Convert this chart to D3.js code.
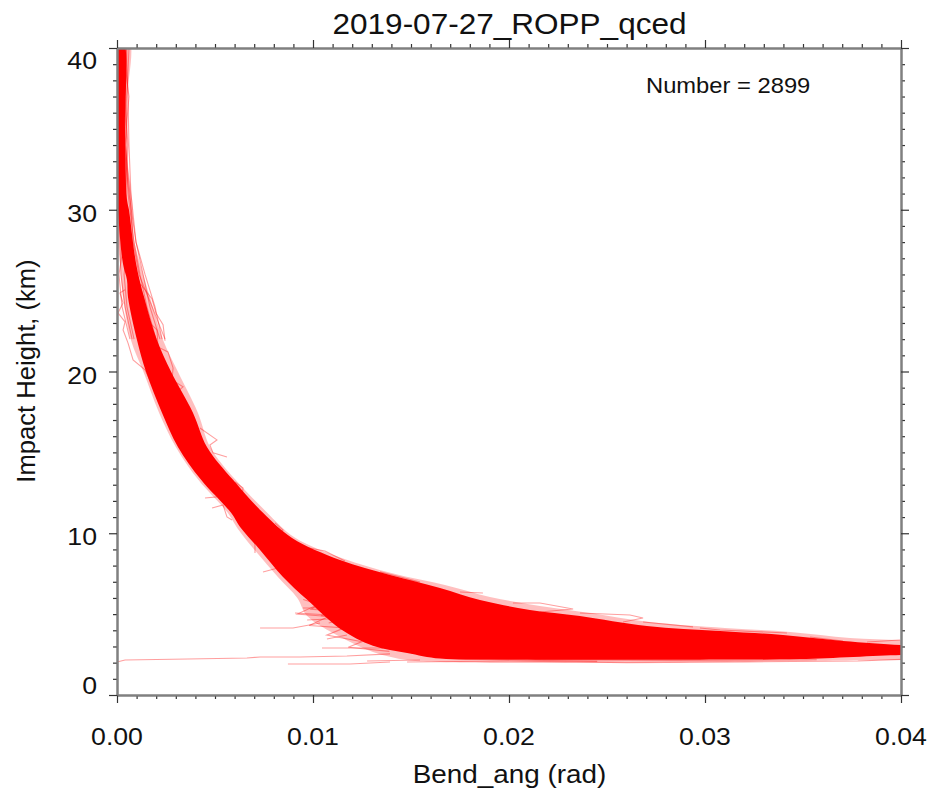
<!DOCTYPE html>
<html>
<head>
<meta charset="utf-8">
<script src="https://cdn.jsdelivr.net/npm/d3@7"></script>
<style>
  html, body { margin: 0; padding: 0; background: #fff; }
  svg { display: block; }
  text { font-family: "Liberation Sans", Arial, sans-serif; fill: #111; }
</style>
</head>
<body>
<div id="chart"></div>
<script>
const titleText = "2019-07-27_ROPP_qced";
const numberText = "Number = 2899";
const xLabelText = "Bend_ang (rad)";
const yLabelText = "Impact Height, (km)";

const xMajorTicks = [0, 0.01, 0.02, 0.03, 0.04];
const xMinorTicks = [0.001, 0.002, 0.003, 0.004, 0.005, 0.006, 0.007, 0.008, 0.009,
    0.011, 0.012, 0.013, 0.014, 0.015, 0.016, 0.017, 0.018, 0.019,
    0.021, 0.022, 0.023, 0.024, 0.025, 0.026, 0.027, 0.028, 0.029,
    0.031, 0.032, 0.033, 0.034, 0.035, 0.036, 0.037, 0.038, 0.039];
const yMajorTicks = [0, 10, 20, 30, 40];
const yMinorTicks = [1, 2, 3, 4, 5, 6, 7, 8, 9, 11, 12, 13, 14, 15, 16, 17, 18, 19,
    21, 22, 23, 24, 25, 26, 27, 28, 29, 31, 32, 33, 34, 35, 36, 37, 38, 39];

// outline of the solid part of the band, [bend, height]
const bandOutline = [
    [0.0003, 40.5], [0.00041, 34.94], [0.00051, 30.6], [0.00061, 30], [0.00097, 26.7],
    [0.00138, 24.6], [0.00204, 21.95], [0.00276, 19.98], [0.00388, 17.44], [0.00459, 15.34],
    [0.00592, 13.3], [0.00745, 11.26], [0.00893, 9.71], [0.01138, 8.35], [0.01393, 7.42],
    [0.01648, 6.62], [0.01852, 5.87], [0.02107, 5.26], [0.02362, 4.89], [0.02704, 4.27],
    [0.03077, 3.96], [0.03398, 3.71], [0.03704, 3.34], [0.04, 3.09], [0.042, 3.05],
    [0.042, 2.5], [0.04, 2.47], [0.03485, 2.22], [0.02974, 2.18], [0.01954, 2.2], [0.01648, 2.25],
    [0.0148, 2.6], [0.01306, 3.05], [0.01138, 4.1], [0.00969, 5.9], [0.00847, 7.3],
    [0.0073, 8.97], [0.00628, 10.39], [0.00582, 11.26], [0.00429, 13.3], [0.00311, 15.34],
    [0.0023, 17.44], [0.00148, 19.98], [0.00102, 21.95], [0.00056, 24.6], [0.00051, 25.66],
    [0.0003, 26.7], [0.00005, 30], [-0.0001, 34.94], [-0.0001, 40.5]
];

// outline of the pale fringe around it
const fringeOutline = [
    [0.00061, 40.5], [0.00051, 36.8], [0.00046, 34], [0.00077, 30.6], [0.00087, 28.14],
    [0.00117, 26.7], [0.00168, 24.6], [0.00235, 21.95], [0.00311, 19.98], [0.00413, 17.44],
    [0.00475, 15.34], [0.00605, 13.3], [0.0076, 11.35], [0.00905, 9.75], [0.0115, 8.45],
    [0.01405, 7.52], [0.01673, 6.8], [0.01903, 6.06], [0.02158, 5.5], [0.02413, 5.07],
    [0.02719, 4.51], [0.03102, 4.14], [0.03434, 3.9], [0.0374, 3.53], [0.04, 3.4], [0.042, 3.35],
    [0.042, 2.14], [0.04, 2.16], [0.03485, 2.1], [0.02974, 2.04], [0.01954, 1.98], [0.01648, 2.04],
    [0.0148, 2.16], [0.01306, 2.66], [0.01138, 3.6], [0.00969, 4.9], [0.0092, 6],
    [0.00821, 7.3], [0.0071, 8.85], [0.00615, 10.3], [0.00565, 11.26], [0.00415, 13.3],
    [0.003, 15.34], [0.00215, 17.44], [0.00135, 19.98], [0.00071, 21.95], [0.00031, 24.6],
    [0.00015, 26.7], [-0.0001, 30], [-0.0001, 40.5]
];

// thin profiles in the upper part, bend at each of these heights
const upperHeights = [40, 37, 34, 31, 28, 26, 24, 22];
const upperProfiles = [
    [0.00061, 0.00051, 0.00046, 0.00056, 0.00087, 0.00117, 0.00153, 0.00199],
    [0.00041, 0.00046, 0.00036, 0.00061, 0.00097, 0.00133, 0.00168, 0.00219],
    [0.00005, 0.00005, 0.0001, 0.00005, 0.00015, 0.0002, 0.00041, 0.00077],
    [0.00051, 0.00041, 0.00056, 0.00046, 0.00071, 0.00102, 0.00148, 0.00184],
    [0.00031, 0.00061, 0.00041, 0.00066, 0.00082, 0.00112, 0.00179, 0.00245],
    [0.00015, 0.00026, 0.00031, 0.00026, 0.00036, 0.0001, 0.00026, 0.00066],
    [0.00026, 0.00036, 0.00051, 0.00041, 0.00056, 0.00036, 0.00051, 0.00087],
    [0.00048, 0.00056, 0.00061, 0.00071, 0.00097, 0.00143, 0.00194, 0.0023]
];

// stray wiggles sticking out of the middle of the band
const wiggleProfiles = [
    [[0.00041, 25.05], [0.00015, 24.86], [0.00031, 24.24], [0.00005, 23.62], [0.00041, 23.07], [0.00031, 22.57], [0.00056, 21.77]],
    [[0.00056, 21.77], [0.00082, 20.72], [0.00143, 20.1], [0.00168, 19.48]],
    [[0.00153, 23.19], [0.00204, 22.57], [0.00209, 21.52], [0.0026, 21.21], [0.00286, 20.22], [0.00281, 19.48], [0.00337, 19.05], [0.00306, 18.74]],
    [[0.0012, 25.4], [0.00178, 24.5], [0.00199, 23.6], [0.00235, 22.9], [0.00245, 21.9]],
    [[0.00423, 16.51], [0.0051, 15.77], [0.00474, 15.46], [0.0049, 14.97], [0.00561, 14.72]],
    [[0.00449, 12.18], [0.0051, 12.25]],
    [[0.00485, 11.56], [0.00541, 11.75], [0.00561, 11.01], [0.00587, 10.82]],
    [[0.00602, 13.17], [0.00643, 12.8], [0.00638, 12.25]],
    [[0.00806, 10.64], [0.00847, 10.2], [0.00816, 9.77]],
    [[0.00643, 10.39], [0.00704, 9.4], [0.00704, 8.78]]
];

// pale traces along the top edge of the wide part
const topEdgeProfiles = [
    [[0.00934, 9.2], [0.01061, 8.9], [0.01163, 8.29]],
    [[0.01342, 7.61], [0.01546, 6.99], [0.01419, 7.2]],
    [[0.0175, 6.37], [0.01867, 6.31]],
    [[0.0202, 5.69], [0.02158, 5.69], [0.02327, 5.32], [0.02158, 5.13]],
    [[0.02362, 5.07], [0.02617, 4.95], [0.02684, 4.76], [0.02582, 4.51]],
    [[0.02684, 4.51], [0.02939, 4.21]],
    [[0.02974, 4.14], [0.03077, 4.02], [0.03418, 3.83]],
    [[0.03536, 3.59], [0.03704, 3.34]],
    [[0.03827, 3.28], [0.03995, 3.4]]
];

// long near-horizontal traces and fuzz at the bottom left
const lowProfiles = [
    [[0, 2.04], [0.00041, 2.16], [0.00362, 2.23], [0.00663, 2.29], [0.0073, 2.35], [0.00934, 2.35], [0.01173, 2.41], [0.01393, 2.54]],
    [[0.0073, 4.14], [0.00898, 4.14], [0.01036, 4.45]],
    [[0.00872, 1.92], [0.01189, 1.92], [0.01393, 2.04]],
    [[0.01046, 2.91], [0.01357, 2.91]],
    [[0.00745, 7.61], [0.00821, 7.85]],
    [[0.01071, 3.46], [0.01173, 3.71]],
    [[0.00908, 5.07], [0.01087, 4.95], [0.012, 4.7]],
    [[0.00949, 5.38], [0.01087, 5.38], [0.01036, 5.69]],
    [[0.0097, 4.64], [0.0118, 4.76], [0.0108, 4.45]],
    [[0.01276, 2.1], [0.01546, 2.16]],
    [[0.0095, 5.9], [0.0103, 5.6], [0.0099, 5.3], [0.0112, 5.2], [0.0104, 4.9], [0.0121, 4.8], [0.0113, 4.4], [0.0129, 4.3], [0.0119, 4], [0.0137, 3.8], [0.0126, 3.5], [0.0147, 3.3], [0.0138, 3], [0.0158, 2.85], [0.015, 2.6], [0.0173, 2.5], [0.0165, 2.3]],
    [[0.0101, 5.5], [0.0092, 5], [0.0108, 4.85], [0.0098, 4.3], [0.0116, 4.15], [0.0107, 3.7], [0.0125, 3.3], [0.0118, 2.95], [0.0139, 2.7]],
    [[0.0148, 2.04], [0.02, 2.1], [0.026, 2], [0.032, 2.05], [0.0378, 2.1], [0.04, 2.2]],
    [[0.0155, 2.45], [0.0201, 2.2], [0.0285, 2.14], [0.0357, 2.18]],
    [[0.01561, 2.47], [0.0178, 2.22], [0.0245, 2.08]]
];

const margin = {top: 48, left: 117},
    width = 784,
    height = 647;

const x = d3.scaleLinear().domain([0, 0.04]).range([0, width]);
const y = d3.scaleLinear().domain([0, 40]).range([height, 0]);

const svg = d3.select("#chart").append("svg")
    .attr("width", 931)
    .attr("height", 789);

const defs = svg.append("defs");
defs.append("clipPath").attr("id", "plot-clip")
    .append("rect").attr("width", width).attr("height", height);
defs.append("filter").attr("id", "soft")
    .append("feGaussianBlur").attr("stdDeviation", 0.5);

const plot_g = svg.append("g")
    .attr("transform", `translate(${margin.left},${margin.top})`);

// the band and its stray profiles
const marks = plot_g.append("g").attr("clip-path", "url(#plot-clip)")
    .append("g").attr("filter", "url(#soft)");

const line = d3.line().x(d => x(d[0])).y(d => y(d[1]));
const outline = d3.line().x(d => x(d[0])).y(d => y(d[1])).curve(d3.curveCatmullRomClosed.alpha(0.5));

marks.append("path")
    .attr("d", outline(fringeOutline))
    .attr("fill", "#ff0000")
    .attr("fill-opacity", 0.25);

marks.append("path")
    .attr("d", outline(bandOutline))
    .attr("fill", "#ff0000");

const profiles = upperProfiles.map(p => p.map((b, i) => [b, upperHeights[i]]))
    .concat(wiggleProfiles, topEdgeProfiles, lowProfiles);

marks.selectAll(".profile")
    .data(profiles)
    .join("path")
    .attr("class", "profile")
    .attr("d", line)
    .attr("fill", "none")
    .attr("stroke", "#ff0000")
    .attr("stroke-width", 1.1)
    .attr("stroke-opacity", 0.38);

// four sided frame, all ticks pointing outwards
function frameAxis(axisFn, scale, transform, ticks, size) {
    const g = plot_g.append("g")
        .attr("transform", transform)
        .call(axisFn(scale).tickValues(ticks).tickSize(size).tickSizeOuter(0).tickFormat(""));
    g.select(".domain").attr("stroke", "#808080").attr("stroke-width", 2);
    g.selectAll(".tick line").attr("stroke", "#333").attr("stroke-width", 1.2);
    return g;
}

frameAxis(d3.axisBottom, x, `translate(0,${height})`, xMinorTicks, 4);
frameAxis(d3.axisTop, x, "translate(0,0)", xMinorTicks, 4);
frameAxis(d3.axisLeft, y, "translate(0,0)", yMinorTicks, 4);
frameAxis(d3.axisRight, y, `translate(${width},0)`, yMinorTicks, 4);
frameAxis(d3.axisBottom, x, `translate(0,${height})`, xMajorTicks, 8);
frameAxis(d3.axisTop, x, "translate(0,0)", xMajorTicks, 8);
frameAxis(d3.axisLeft, y, "translate(0,0)", yMajorTicks, 8);
frameAxis(d3.axisRight, y, `translate(${width},0)`, yMajorTicks, 8);

// the horizontal text in the picture runs a little wide
const stretch = 1.08;

plot_g.selectAll(".x-label")
    .data(xMajorTicks)
    .join("text")
    .attr("class", "x-label")
    .attr("transform", d => `translate(${x(d)},${height + 50}) scale(${stretch},1)`)
    .attr("text-anchor", "middle")
    .attr("font-size", "24.7px")
    .text(d3.format(".2f"));

// the first and last label are pushed inside the axis range
const yLabelNudge = d => (d === 40 ? 12 : d === 0 ? -10 : 3);

plot_g.selectAll(".y-label")
    .data(yMajorTicks)
    .join("text")
    .attr("class", "y-label")
    .attr("transform", d => `translate(-20,${y(d) + yLabelNudge(d) + 9}) scale(${stretch},1)`)
    .attr("text-anchor", "end")
    .attr("font-size", "24.7px")
    .text(d => d);

// titles
svg.append("text")
    .attr("transform", `translate(509.5,34) scale(${stretch},1)`)
    .attr("text-anchor", "middle")
    .attr("font-size", "29.2px")
    .text(titleText);

svg.append("text")
    .attr("transform", `translate(646,93) scale(${stretch},1)`)
    .attr("font-size", "22px")
    .text(numberText);

svg.append("text")
    .attr("transform", `translate(509.5,783) scale(${stretch},1)`)
    .attr("text-anchor", "middle")
    .attr("font-size", "25.8px")
    .text(xLabelText);

svg.append("text")
    .attr("transform", "translate(35,371) rotate(-90)")
    .attr("text-anchor", "middle")
    .attr("font-size", "25.6px")
    .text(yLabelText);
</script>
</body>
</html>
